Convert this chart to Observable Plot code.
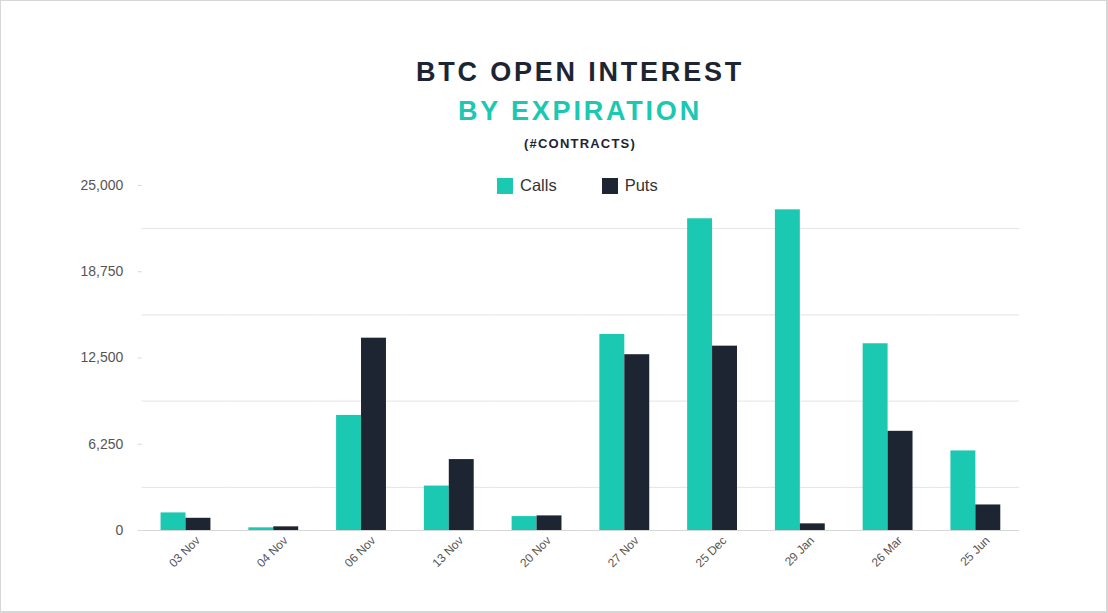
<!DOCTYPE html>
<html><head><meta charset="utf-8">
<script src="https://cdn.jsdelivr.net/npm/d3@7"></script>
<script src="https://cdn.jsdelivr.net/npm/@observablehq/plot@0.6"></script>
<style>
body{margin:0;background:#fff;}
#wrap{position:relative;width:1108px;height:613px;box-sizing:border-box;border:1px solid #d6d6d6;border-right-width:2px;border-bottom-width:2px;font-family:"Liberation Sans",Arial,sans-serif;overflow:hidden;background:#fff}
.t{position:absolute;left:279px;width:600px;text-align:center;font-weight:bold;white-space:nowrap}
#t1{top:56px;font-size:27px;letter-spacing:2.8px;color:#1e2532}
#t2{top:95px;font-size:27px;letter-spacing:2.8px;color:#1bc8b1}
#t3{top:135px;font-size:13px;letter-spacing:1.2px;color:#1e2532}
#legend{position:absolute;top:175px;left:496px;font-size:16.5px;color:#333;display:flex;align-items:center}
.sw{display:inline-block;width:16px;height:16px;margin-right:7px}
.it{display:flex;align-items:center;margin-right:45px}
#chart{position:absolute;left:0;top:169px}
</style></head>
<body>
<div id="wrap">
  <div class="t" id="t1">BTC OPEN INTEREST</div>
  <div class="t" id="t2">BY EXPIRATION</div>
  <div class="t" id="t3">(#CONTRACTS)</div>
  <div id="chart"></div>
  <div id="legend"></div>
</div>
<script>
const dates = ["03 Nov","04 Nov","06 Nov","13 Nov","20 Nov","27 Nov","25 Dec","29 Jan","26 Mar","25 Jun"];
const calls = [1276, 195, 8340, 3222, 1009, 14201, 22586, 23234, 13531, 5767];
const puts  = [887, 267, 13935, 5140, 1060, 12738, 13358, 483, 7187, 1852];
const seriesNames = ["Calls","Puts"];
const seriesColors = ["#1bc8b1","#1e2532"];
const yTicks = [0, 6250, 12500, 18750, 25000];
const gridValues = [3125, 9375, 15625, 21875];

const data = dates.flatMap((d, i) => [
  {date: d, series: "Calls", value: calls[i]},
  {date: d, series: "Puts", value: puts[i]}
]);

const chart = Plot.plot({
  width: 1108,
  height: 421,
  marginTop: 15,
  marginLeft: 140,
  marginRight: 87,
  marginBottom: 60,
  style: {fontFamily: "'Liberation Sans', Arial, sans-serif", background: "transparent", overflow: "visible"},
  fx: {domain: dates, padding: 0, label: null},
  x: {domain: seriesNames, paddingInner: 0, paddingOuter: 0.76, axis: null},
  y: {domain: [0, 25000], label: null},
  color: {domain: seriesNames, range: seriesColors},
  marks: [
    Plot.ruleY(gridValues, {stroke: "#e4e4e4"}),
    Plot.ruleY([0], {stroke: "#d8d8d8"}),
    Plot.barY(data, {fx: "date", x: "series", y: "value", fill: "series"}),
    Plot.axisY({ticks: yTicks, tickFormat: d3.format(","), tickSize: 4, tickPadding: 15, line: true, stroke: "#d8d8d8", fill: "#555", fontSize: 14, label: null}),
    Plot.axisFx({anchor: "bottom", tickRotate: -45, tickSize: 0, tickPadding: 8, dx: 12, fill: "#555", fontSize: 12, label: null})
  ]
});
document.getElementById("chart").appendChild(chart);

const legend = document.getElementById("legend");
seriesNames.forEach((s, i) => {
  const it = document.createElement("div");
  it.className = "it";
  const sw = document.createElement("span");
  sw.className = "sw";
  sw.style.background = seriesColors[i];
  it.appendChild(sw);
  it.appendChild(document.createTextNode(s));
  legend.appendChild(it);
});
</script>
</body></html>
